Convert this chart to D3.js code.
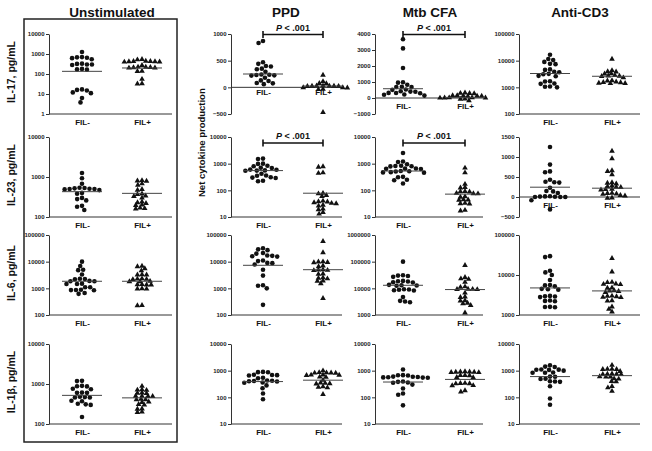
<!DOCTYPE html>
<html><head><meta charset="utf-8">
<script src="https://cdn.jsdelivr.net/npm/d3@7"></script>
<style>
body{margin:0;background:#fff}
svg{display:block}
text{font-family:Arial,"Liberation Sans",Helvetica,sans-serif}
</style>
</head><body>
<svg id="chart" width="652" height="451"></svg>
<script>
// ---------------- DATA ----------------
const stimuli = ["Unstimulated", "PPD", "Mtb CFA", "Anti-CD3"];
const cytokines = ["IL-17, pg/mL", "IL-23, pg/mL", "IL-6, pg/mL", "IL-1\u03B2, pg/mL"];
const groups = ["FIL-", "FIL+"];
const sigLabel = "P < .001";

// tick label sets
const ticks_1_1e4 = [1, 10, 100, 1000, 10000];
const ticks_1e2_1e4 = [100, 1000, 10000];
const ticks_1e2_1e5 = [100, 1000, 10000, 100000];
const ticks_1e1_1e4 = [10, 100, 1000, 10000];
const ticks_1e3_1e6 = [1000, 10000, 100000, 1000000];
const ticks_1e3_1e5 = [1000, 10000, 100000];
const ticks_m500_1000 = [-500, 0, 500, 1000];
const ticks_m1000_4000 = [-1000, 0, 1000, 2000, 3000, 4000];
const ticks_m500_1500 = [-500, 0, 500, 1000, 1500];

// Unstimulated
const il17_unstim_neg = [1250, 700, 680, 650, 620, 550, 330, 320, 300, 300, 280, 180, 170, 165, 17, 16, 15, 12, 11, 6.3, 3.8];
const il17_unstim_pos = [540, 520, 440, 430, 430, 420, 420, 410, 400, 270, 225, 220, 215, 210, 205, 200, 140, 135, 55, 33, 32];
const il23_unstim_neg = [1260, 930, 680, 540, 530, 520, 510, 500, 500, 490, 470, 400, 380, 300, 280, 260, 190, 180, 150];
const il23_unstim_pos = [820, 800, 790, 680, 630, 490, 470, 380, 370, 340, 330, 300, 240, 230, 220, 200, 195, 170, 165, 160];
const il6_unstim_neg = [10000, 6900, 5000, 4800, 3300, 2300, 2250, 2200, 1900, 1850, 1850, 1500, 1450, 1450, 1100, 1100, 880, 870, 860, 850, 670, 620];
const il6_unstim_pos = [6800, 6500, 5500, 4600, 3300, 3200, 3200, 2300, 2250, 2200, 2150, 1850, 1800, 1800, 1400, 1380, 1350, 1350, 980, 960, 950, 230, 225];
const il1b_unstim_neg = [1200, 1180, 900, 880, 870, 760, 740, 610, 600, 600, 480, 470, 460, 460, 380, 370, 320, 310, 300, 150];
const il1b_unstim_pos = [880, 720, 710, 700, 600, 590, 580, 500, 500, 490, 490, 420, 410, 410, 360, 350, 310, 300, 240, 235, 200, 195];
const unstim_median_neg = [136, 430, 1840, 520];
const unstim_median_pos = [200, 390, 1840, 450];

// PPD
const il17_ppd_neg = [870, 830, 470, 440, 400, 390, 350, 340, 290, 240, 235, 230, 225, 220, 180, 130, 120, 80, 75, 60];
const il17_ppd_pos = [230, 110, 75, 70, 30, 28, 26, 25, 24, 22, 20, -3, -5, -8, -35, -40, -470];
const il23_ppd_neg = [1550, 1500, 1000, 980, 830, 800, 700, 690, 600, 590, 560, 550, 540, 420, 360, 350, 310, 300, 290, 230, 220];
const il23_ppd_pos = [780, 740, 460, 440, 78, 75, 65, 60, 40, 38, 37, 35, 33, 32, 28, 26, 20, 19, 15, 13];
const il6_ppd_neg = [32000, 29000, 27000, 21000, 20000, 17000, 16500, 16000, 15500, 11000, 10500, 9000, 8800, 7800, 5000, 3000, 1300, 1250, 1000, 240];
const il6_ppd_pos = [58000, 22000, 10000, 9800, 9500, 9300, 7000, 6500, 5000, 4900, 4800, 4700, 3500, 3400, 2500, 2400, 2300, 1900, 1850, 1500, 420];
const il1b_ppd_neg = [900, 880, 870, 700, 690, 680, 660, 540, 520, 430, 420, 410, 400, 390, 360, 350, 280, 220, 140, 85];
const il1b_ppd_pos = [1000, 860, 840, 830, 820, 810, 700, 690, 680, 670, 580, 570, 440, 350, 340, 330, 320, 250, 240, 230, 130];
const ppd_median_neg = [250, 550, 7300, 390];
const ppd_median_pos = [25, 78, 5000, 440];

// Mtb CFA
const il17_mtb_neg = [3670, 3100, 1875, 980, 960, 830, 700, 690, 680, 530, 510, 420, 400, 390, 320, 310, 300, 220, 200, 150];
const il17_mtb_pos = [320, 300, 290, 280, 160, 150, 140, 130, 120, 110, 30, 20, 15, 10, 5, -60, -70, -160];
const il23_mtb_neg = [2500, 1200, 1150, 950, 830, 820, 800, 790, 660, 650, 640, 630, 530, 520, 510, 480, 470, 460, 320, 310, 250, 240, 180];
const il23_mtb_pos = [690, 460, 170, 130, 125, 92, 90, 88, 78, 76, 75, 58, 56, 45, 44, 43, 33, 32, 31, 18, 17];
const il6_mtb_neg = [100000, 31000, 30000, 29000, 27000, 19000, 18500, 18000, 17000, 16500, 13500, 13000, 12800, 12500, 9200, 9000, 8800, 8500, 8300, 4700, 3400, 3200, 3000];
const il6_mtb_pos = [73000, 26000, 23000, 22000, 17000, 11500, 11000, 9400, 9300, 9200, 9100, 6700, 4800, 4600, 3500, 3400, 2800, 2700, 2300, 1200];
const il1b_mtb_neg = [1100, 680, 670, 660, 600, 590, 580, 570, 560, 550, 540, 390, 380, 360, 350, 300, 215, 140, 125, 50];
const il1b_mtb_pos = [920, 910, 900, 890, 880, 870, 860, 670, 660, 650, 560, 550, 340, 335, 330, 325, 280, 275, 180, 160];
const mtb_median_neg = [580, 530, 13000, 375];
const mtb_median_pos = [40, 72, 9000, 470];

// Anti-CD3
const il17_cd3_neg = [16700, 11500, 10500, 9000, 7600, 7400, 4700, 4500, 3800, 3700, 3200, 3100, 2700, 2600, 1700, 1650, 1400, 1350, 1080, 1050, 1000];
const il17_cd3_pos = [11500, 4300, 3900, 3800, 3300, 3200, 2800, 2700, 2650, 2600, 2300, 1800, 1750, 1600, 1550, 1500, 1450, 1420, 1400];
const il23_cd3_neg = [1250, 810, 640, 620, 430, 380, 370, 360, 230, 150, 140, 100, 20, 15, 10, 5, 0, 0, 0, -80, -310];
const il23_cd3_pos = [1150, 960, 660, 640, 560, 360, 350, 330, 280, 260, 250, 240, 200, 190, 180, 100, 90, 80, 70, 40, 30, -20, -30];
const il6_cd3_neg = [29600, 28000, 12800, 11600, 10000, 7500, 5600, 5500, 5200, 4500, 4400, 4300, 3000, 2950, 2900, 2800, 2300, 2250, 2200, 1600, 1580, 1560];
const il6_cd3_pos = [26000, 12000, 6600, 6500, 6000, 5900, 5800, 4800, 4700, 4100, 4000, 3900, 3700, 3000, 2950, 2900, 2800, 2750, 2300, 2250, 1600, 1400, 1200];
const il1b_cd3_neg = [1580, 1420, 1380, 1100, 1090, 1080, 1070, 1000, 850, 840, 830, 600, 590, 500, 490, 400, 390, 380, 260, 90, 53];
const il1b_cd3_pos = [1600, 1150, 1140, 1130, 1120, 950, 760, 750, 740, 730, 720, 600, 590, 580, 500, 490, 400, 390, 260, 230, 170];
const cd3_median_neg = [3300, 245, 4750, 600];
const cd3_median_pos = [2600, 220, 4000, 650];

// significance flags [row][col]
const significant = [[false, true, true, false], [false, true, true, false], [false, false, false, false], [false, false, false, false]];

// ---------------- PANEL TABLE ----------------
const panelTable = [
  [ {neg: il17_unstim_neg, pos: il17_unstim_pos, type: "log", ticks: ticks_1_1e4},
    {neg: il17_ppd_neg, pos: il17_ppd_pos, type: "lin", ticks: ticks_m500_1000},
    {neg: il17_mtb_neg, pos: il17_mtb_pos, type: "lin", ticks: ticks_m1000_4000},
    {neg: il17_cd3_neg, pos: il17_cd3_pos, type: "log", ticks: ticks_1e2_1e5} ],
  [ {neg: il23_unstim_neg, pos: il23_unstim_pos, type: "log", ticks: ticks_1e2_1e4},
    {neg: il23_ppd_neg, pos: il23_ppd_pos, type: "log", ticks: ticks_1e1_1e4},
    {neg: il23_mtb_neg, pos: il23_mtb_pos, type: "log", ticks: ticks_1e1_1e4},
    {neg: il23_cd3_neg, pos: il23_cd3_pos, type: "lin", ticks: ticks_m500_1500} ],
  [ {neg: il6_unstim_neg, pos: il6_unstim_pos, type: "log", ticks: ticks_1e2_1e5},
    {neg: il6_ppd_neg, pos: il6_ppd_pos, type: "log", ticks: ticks_1e2_1e5},
    {neg: il6_mtb_neg, pos: il6_mtb_pos, type: "log", ticks: ticks_1e3_1e6},
    {neg: il6_cd3_neg, pos: il6_cd3_pos, type: "log", ticks: ticks_1e3_1e5} ],
  [ {neg: il1b_unstim_neg, pos: il1b_unstim_pos, type: "log", ticks: ticks_1e2_1e4},
    {neg: il1b_ppd_neg, pos: il1b_ppd_pos, type: "log", ticks: ticks_1e1_1e4},
    {neg: il1b_mtb_neg, pos: il1b_mtb_pos, type: "log", ticks: ticks_1e1_1e4},
    {neg: il1b_cd3_neg, pos: il1b_cd3_pos, type: "log", ticks: ticks_1e1_1e4} ]
];
const mediansNeg = [unstim_median_neg, ppd_median_neg, mtb_median_neg, cd3_median_neg];
const mediansPos = [unstim_median_pos, ppd_median_pos, mtb_median_pos, cd3_median_pos];

// ---------------- LAYOUT ----------------
const colAxisX = [49, 231, 375, 519];
const colAxisEnd = [172, 342, 483, 640];
const colCatX = [[82, 142], [263, 323], [403, 465], [550, 612]];
const rowTop = [34, 137, 235, 344];
const rowBottom = [114, 217, 315, 424];
const titleX = [112, 286, 430, 580];

const svg = d3.select("#chart");
const axisColor = "#333";
const dotColor = "#111";

// frame around Unstimulated column
svg.append("rect").attr("x", 24).attr("y", 19).attr("width", 153).attr("height", 423)
  .attr("fill", "none").attr("stroke", "#222").attr("stroke-width", 1.5);

// column titles
stimuli.forEach((s, c) => {
  svg.append("text").attr("x", titleX[c]).attr("y", 17).attr("text-anchor", "middle")
    .attr("font-size", 13.5).attr("font-weight", "bold").attr("fill", "#111").text(s);
});

// row labels
cytokines.forEach((t, r) => {
  const cy = (rowTop[r] + rowBottom[r]) / 2 - 2;
  svg.append("text").attr("transform", `translate(15,${cy}) rotate(-90)`)
    .attr("text-anchor", "middle").attr("font-size", 10.5).attr("font-weight", "bold")
    .attr("fill", "#111").text(t);
});
svg.append("text").attr("transform", `translate(205,197) rotate(-90)`)
  .attr("text-anchor", "start").attr("font-size", 9.5).attr("font-weight", "bold")
  .attr("fill", "#111").text("Net cytokine production");

// beeswarm with separate horizontal (d) and vertical (dv) collision distances
function swarm(values, yScale, d, dv) {
  const pts = values.map(v => ({ v, y: yScale(v) })).sort((a, b) => a.y - b.y);
  const placed = [];
  const collide = (q, x, yy) => ((q.dx - x) / d) ** 2 + ((q.y - yy) / dv) ** 2 < 0.999;
  pts.forEach(p => {
    const cands = [0];
    placed.forEach(q => {
      const dy = Math.abs(q.y - p.y);
      if (dy < dv) {
        const dx = d * Math.sqrt(1 - (dy / dv) ** 2);
        cands.push(q.dx + dx + 0.01, q.dx - dx - 0.01);
      }
    });
    cands.sort((a, b) => Math.abs(a) - Math.abs(b) || a - b);
    for (const c of cands) {
      if (!placed.some(q => collide(q, c, p.y))) { p.dx = c; break; }
    }
    placed.push(p);
  });
  return placed;
}

const triangle = d3.symbol().type(d3.symbolTriangle).size(14);

panelTable.forEach((row, r) => {
  row.forEach((p, c) => {
    const g = svg.append("g");
    const dom = d3.extent(p.ticks);
    const y = (p.type === "log" ? d3.scaleLog() : d3.scaleLinear())
      .domain(dom).range([rowBottom[r], rowTop[r]]);
    const x = d3.scalePoint().domain(groups).range(colCatX[c]);
    const ax = colAxisX[c];
    const xAxisY = p.type === "log" ? rowBottom[r] : y(0);

    // y axis
    const ya = g.append("g").attr("transform", `translate(${ax},0)`)
      .call(d3.axisLeft(y).tickValues(p.ticks).tickFormat(d3.format("d")).tickSize(3).tickSizeOuter(0).tickPadding(1.5));
    ya.select(".domain").attr("stroke", axisColor).attr("stroke-width", 1);
    ya.selectAll(".tick line").attr("stroke", axisColor);
    ya.selectAll(".tick text").attr("font-size", 6).attr("font-weight", "bold").attr("fill", "#222")
      .attr("font-family", "Arial, 'Liberation Sans', sans-serif");

    // x axis line
    g.append("line").attr("x1", ax).attr("x2", colAxisEnd[c]).attr("y1", xAxisY).attr("y2", xAxisY)
      .attr("stroke", axisColor).attr("stroke-width", 1);
    const xa = g.append("g").attr("transform", `translate(0,${xAxisY})`)
      .call(d3.axisBottom(x).tickSize(0).tickPadding(p.type === "lin" && c === 1 ? 2 : 5));
    xa.select(".domain").remove();
    xa.selectAll(".tick text").attr("font-size", 8).attr("font-weight", "bold").attr("fill", "#111")
      .attr("font-family", "Arial, 'Liberation Sans', sans-serif");

    // points
    [p.neg, p.pos].forEach((vals, gi) => {
      const cx = x(groups[gi]);
      if (gi === 0) {
        const pts = swarm(vals, y, 5.0, 4.6);
        g.selectAll(null).data(pts).enter().append("circle")
          .attr("cx", d => cx + d.dx).attr("cy", d => d.y).attr("r", 2.3).attr("fill", dotColor);
      } else {
        const pts = swarm(vals, y, 4.6, 3.1);
        g.selectAll(null).data(pts).enter().append("path")
          .attr("d", triangle).attr("transform", d => `translate(${cx + d.dx},${d.y})`).attr("fill", dotColor);
      }
    });

    // median lines
    [mediansNeg[c][r], mediansPos[c][r]].forEach((m, gi) => {
      const cx = x(groups[gi]);
      g.append("line").attr("x1", cx - 20).attr("x2", cx + 20).attr("y1", y(m)).attr("y2", y(m))
        .attr("stroke", "#444").attr("stroke-width", 1);
    });

    // significance bracket
    if (significant[r][c]) {
      const by = r === 0 ? rowTop[r] + 0.5 : rowTop[r] + 6;
      const x0 = x(groups[0]), x1 = x(groups[1]);
      g.append("line").attr("x1", x0).attr("x2", x1).attr("y1", by).attr("y2", by)
        .attr("stroke", "#111").attr("stroke-width", 1.6);
      [x0, x1].forEach(xx => g.append("line").attr("x1", xx).attr("x2", xx).attr("y1", by - 3.5).attr("y2", by + 3.5)
        .attr("stroke", "#111").attr("stroke-width", 1.6));
      const t = g.append("text").attr("x", (x0 + x1) / 2).attr("y", by - 4).attr("text-anchor", "middle")
        .attr("font-size", 9).attr("font-weight", "bold").attr("fill", "#111");
      t.append("tspan").attr("font-style", "italic").text(sigLabel.slice(0, 1));
      t.append("tspan").text(sigLabel.slice(1));
    }
  });
});
</script>
</body></html>
